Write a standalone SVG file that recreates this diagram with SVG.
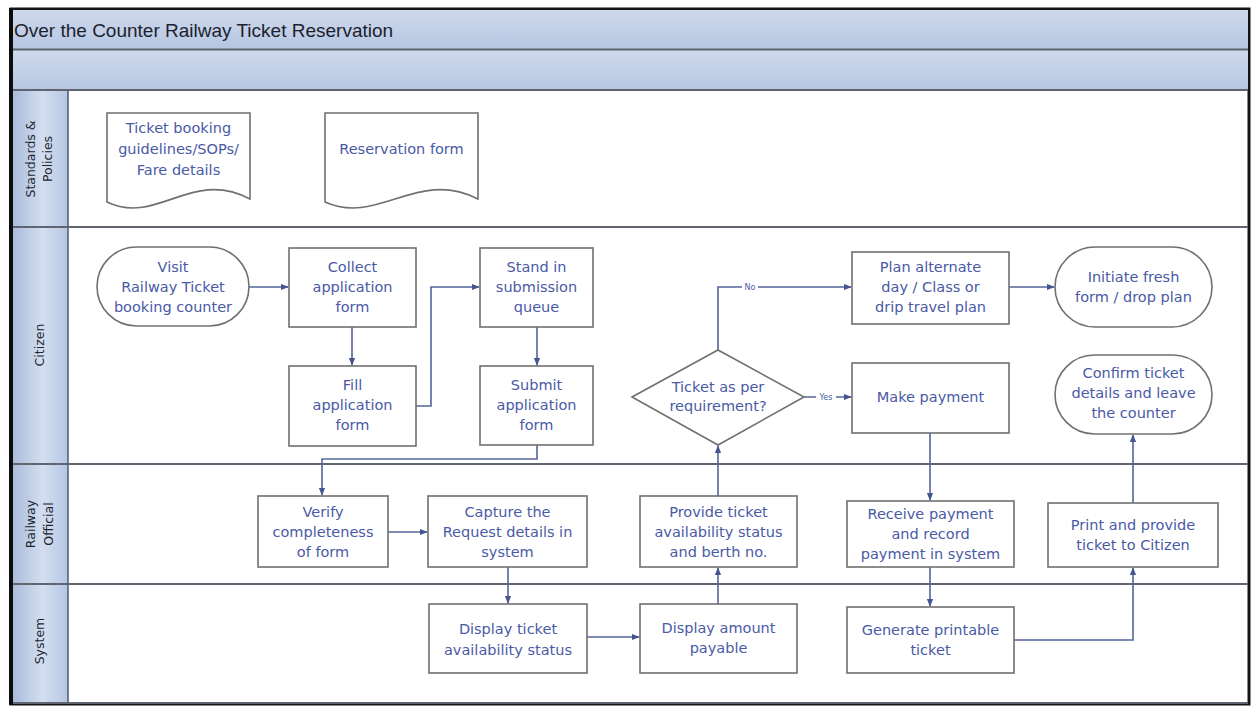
<svg xmlns="http://www.w3.org/2000/svg" width="1252" height="707" viewBox="0 0 1252 707">
<defs>
<linearGradient id="hdr" x1="0" y1="0" x2="0" y2="1"><stop offset="0" stop-color="#cfd9ec"/><stop offset="1" stop-color="#b6c6e2"/></linearGradient>
<linearGradient id="lane" x1="0" y1="0" x2="1" y2="0"><stop offset="0" stop-color="#a8bbdb"/><stop offset="0.55" stop-color="#d4def0"/><stop offset="1" stop-color="#b5c5e2"/></linearGradient>
<marker id="arr" viewBox="0 0 10 10" refX="9" refY="5" markerWidth="8" markerHeight="8" orient="auto" markerUnits="userSpaceOnUse"><path d="M0,1 L10,5 L0,9 z" fill="#44558f"/></marker>
<style>
.n{fill:#ffffff;stroke:#707070;stroke-width:1.6}
.t{font-family:"DejaVu Sans",Verdana,sans-serif;font-size:14.5px;fill:#4a5aa6;text-anchor:middle}
.l{font-family:"DejaVu Sans",Verdana,sans-serif;font-size:12.5px;fill:#22252f;text-anchor:middle}
.c{fill:none;stroke:#55659c;stroke-width:1.6;marker-end:url(#arr)}
.lab{font-family:"DejaVu Sans",Verdana,sans-serif;font-size:8px;fill:#4a5aa6;text-anchor:middle}
.ln{stroke:#5f6470;stroke-width:2}
</style>
</defs>
<rect x="0" y="0" width="1252" height="707" fill="#ffffff"/>
<g id="frame">
<rect x="11" y="9" width="1238" height="695" fill="#ffffff" stroke="#151515" stroke-width="3"/>
<rect x="12" y="10" width="1236" height="39" fill="url(#hdr)"/>
<rect x="12" y="50" width="1236" height="40" fill="url(#hdr)"/>
<line class="ln" x1="12" y1="49.5" x2="1248" y2="49.5"/>
<line class="ln" x1="12" y1="90" x2="1248" y2="90"/>
<text x="14" y="37" style="font-family:'Liberation Sans',Arial,sans-serif;font-size:19px;fill:#1c1f2e">Over the Counter Railway Ticket Reservation</text>
<rect x="12" y="91" width="56" height="612" fill="url(#lane)"/>
<line x1="68" y1="90" x2="68" y2="703" stroke="#55607a" stroke-width="1.6"/>
<line class="ln" x1="12" y1="227" x2="1248" y2="227"/>
<line class="ln" x1="12" y1="464" x2="1248" y2="464"/>
<line class="ln" x1="12" y1="584" x2="1248" y2="584"/>
<line class="ln" x1="12" y1="703" x2="1248" y2="703"/>
<line x1="11" y1="8" x2="11" y2="705" stroke="#0d0d0d" stroke-width="4"/>
</g>
<g id="lane-labels">
<text class="l" transform="translate(40,159) rotate(-90)"><tspan x="0" y="-5">Standards &amp;</tspan><tspan x="0" y="12">Policies</tspan></text>
<text class="l" transform="translate(40,345) rotate(-90)" x="0" y="4">Citizen</text>
<text class="l" transform="translate(40,524) rotate(-90)"><tspan x="0" y="-5">Railway</tspan><tspan x="0" y="13">Official</tspan></text>
<text class="l" transform="translate(40,641) rotate(-90)" x="0" y="4">System</text>
</g>
<g id="connectors">
<path class="c" d="M249,287 H288"/>
<path class="c" d="M352,327 V365"/>
<path class="c" d="M416,406 H431 V287 H479"/>
<path class="c" d="M537,327 V365"/>
<path class="c" d="M537,445 V459 H322 V495"/>
<path class="c" d="M388,532 H427"/>
<path class="c" d="M508,567 V603"/>
<path class="c" d="M587,637 H639"/>
<path class="c" d="M718,604 V568"/>
<path class="c" d="M718,496 V446"/>
<path class="c" d="M718,350 V287 H851"/>
<path class="c" d="M804,397 H851"/>
<path class="c" d="M1009,287 H1054"/>
<path class="c" d="M930,433 V500"/>
<path class="c" d="M930,567 V606"/>
<path class="c" d="M1014,640 H1133 V568"/>
<path class="c" d="M1133,503 V435"/>
<rect x="742" y="282" width="16" height="10" fill="#ffffff"/>
<text class="lab" x="750" y="290">No</text>
<rect x="816" y="392" width="20" height="10" fill="#ffffff"/>
<text class="lab" x="826" y="400">Yes</text>
</g>
<g id="doc-guidelines">
<path class="n" d="M107,113 H250 V199 C191.2,168 157,226 107,202 Z"/>
<text class="t"><tspan x="178.5" y="133">Ticket booking</tspan><tspan x="178.5" y="154">guidelines/SOPs/</tspan><tspan x="178.5" y="175">Fare details</tspan></text>
</g>
<g id="doc-reservation">
<path class="n" d="M325,113 H478 V199 C416.8,168 378.6,226 325,202 Z"/>
<text class="t" x="401.5" y="154">Reservation form</text>
</g>
<g id="visit">
<rect class="n" x="97" y="247" width="152" height="79" rx="39.5"/>
<text class="t"><tspan x="173" y="272">Visit</tspan><tspan x="173" y="292">Railway Ticket</tspan><tspan x="173" y="312">booking counter</tspan></text>
</g>
<g id="collect">
<rect class="n" x="289" y="248" width="127" height="79"/>
<text class="t"><tspan x="352.5" y="272">Collect</tspan><tspan x="352.5" y="292">application</tspan><tspan x="352.5" y="312">form</tspan></text>
</g>
<g id="fill">
<rect class="n" x="289" y="366" width="127" height="80"/>
<text class="t"><tspan x="352.5" y="390">Fill</tspan><tspan x="352.5" y="410">application</tspan><tspan x="352.5" y="430">form</tspan></text>
</g>
<g id="stand">
<rect class="n" x="480" y="248" width="113" height="79"/>
<text class="t"><tspan x="536.5" y="272">Stand in</tspan><tspan x="536.5" y="292">submission</tspan><tspan x="536.5" y="312">queue</tspan></text>
</g>
<g id="submit">
<rect class="n" x="480" y="366" width="113" height="79"/>
<text class="t"><tspan x="536.5" y="390">Submit</tspan><tspan x="536.5" y="410">application</tspan><tspan x="536.5" y="430">form</tspan></text>
</g>
<g id="decision">
<polygon class="n" points="632,397 718,350 804,397 718,445"/>
<text class="t"><tspan x="718" y="392">Ticket as per</tspan><tspan x="718" y="411">requirement?</tspan></text>
</g>
<g id="plan">
<rect class="n" x="852" y="252" width="157" height="72"/>
<text class="t"><tspan x="930.5" y="272">Plan alternate</tspan><tspan x="930.5" y="292">day / Class or</tspan><tspan x="930.5" y="312">drip travel plan</tspan></text>
</g>
<g id="initiate">
<rect class="n" x="1055" y="247" width="157" height="80" rx="40"/>
<text class="t"><tspan x="1133.5" y="282">Initiate fresh</tspan><tspan x="1133.5" y="302">form / drop plan</tspan></text>
</g>
<g id="payment">
<rect class="n" x="852" y="363" width="157" height="70"/>
<text class="t" x="930.5" y="402">Make payment</text>
</g>
<g id="confirm">
<rect class="n" x="1055" y="355" width="157" height="79" rx="39.5"/>
<text class="t"><tspan x="1133.5" y="378">Confirm ticket</tspan><tspan x="1133.5" y="398">details and leave</tspan><tspan x="1133.5" y="418">the counter</tspan></text>
</g>
<g id="verify">
<rect class="n" x="258" y="496" width="130" height="71"/>
<text class="t"><tspan x="323" y="517">Verify</tspan><tspan x="323" y="537">completeness</tspan><tspan x="323" y="557">of form</tspan></text>
</g>
<g id="capture">
<rect class="n" x="428" y="496" width="159" height="71"/>
<text class="t"><tspan x="507.5" y="517">Capture the</tspan><tspan x="507.5" y="537">Request details in</tspan><tspan x="507.5" y="557">system</tspan></text>
</g>
<g id="provide">
<rect class="n" x="640" y="496" width="157" height="71"/>
<text class="t"><tspan x="718.5" y="517">Provide ticket</tspan><tspan x="718.5" y="537">availability status</tspan><tspan x="718.5" y="557">and berth no.</tspan></text>
</g>
<g id="receive">
<rect class="n" x="847" y="501" width="167" height="66"/>
<text class="t"><tspan x="930.5" y="519">Receive payment</tspan><tspan x="930.5" y="539">and record</tspan><tspan x="930.5" y="559">payment in system</tspan></text>
</g>
<g id="print">
<rect class="n" x="1048" y="503" width="170" height="64"/>
<text class="t"><tspan x="1133" y="530">Print and provide</tspan><tspan x="1133" y="550">ticket to Citizen</tspan></text>
</g>
<g id="display-status">
<rect class="n" x="429" y="604" width="158" height="69"/>
<text class="t"><tspan x="508" y="634">Display ticket</tspan><tspan x="508" y="655">availability status</tspan></text>
</g>
<g id="display-amount">
<rect class="n" x="640" y="604" width="157" height="69"/>
<text class="t"><tspan x="718.5" y="633">Display amount</tspan><tspan x="718.5" y="653">payable</tspan></text>
</g>
<g id="generate">
<rect class="n" x="847" y="607" width="167" height="66"/>
<text class="t"><tspan x="930.5" y="635">Generate printable</tspan><tspan x="930.5" y="655">ticket</tspan></text>
</g>
</svg>
